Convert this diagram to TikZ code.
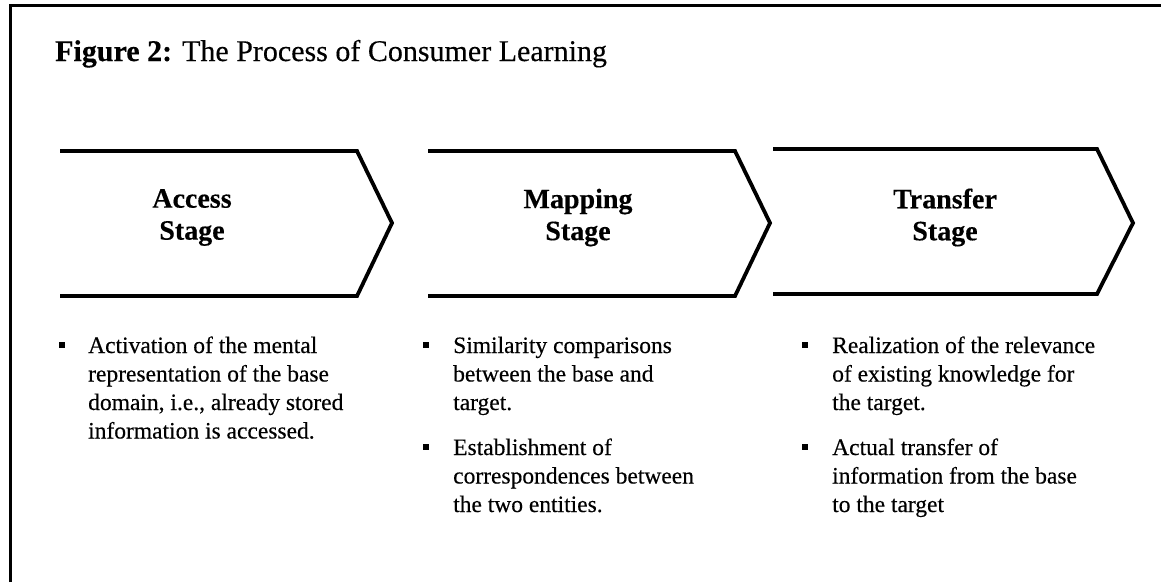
\documentclass[tikz,border=0pt]{standalone}
\usepackage{fontspec}
\setmainfont{Liberation Serif}[FakeBold=0.35]
% left-aligned block whose baseline is its first line
\newcommand{\bulletlines}[1]{\begin{tabular}[t]{@{}l@{}}#1\end{tabular}}
\begin{document}
\begin{tikzpicture}[x=1pt,y=-1pt,
  frame/.style={line width=3pt},
  chevron/.style={line width=3.8pt, line join=miter},
  stagelabel/.style={font=\fontsize{28}{32}\selectfont\bfseries, align=center, inner sep=0pt},
  bullettext/.style={font=\fontsize{23.5}{28.5}\selectfont, anchor=base west, inner sep=0pt},
  bulletmark/.style={fill=black, minimum width=5.5pt, minimum height=6.5pt, inner sep=0pt}
]
\useasboundingbox (0,0) rectangle (1161,582);

% open frame: left and top rules only
\draw[frame] (10,582) -- (10,5.5) -- (1161,5.5);

% title
\node[anchor=base west, inner sep=0pt, font=\fontsize{30}{34}\selectfont] (title) at (55,61)
  {\textbf{Figure 2:} The Process of Consumer Learning};

% stage chevrons (open on the left side)
\draw[chevron] (60,151) -- (357,151) -- (392,223) -- (357,296) -- (60,296);
\draw[chevron] (428,151) -- (735,151) -- (770,223) -- (735,296) -- (428,296);
\draw[chevron] (773,149) -- (1097,149) -- (1133,223) -- (1097,294) -- (773,294);

\node[stagelabel] (access)   at (192,217.5) {Access\\Stage};
\node[stagelabel] (mapping)  at (578,217.5) {Mapping\\Stage};
\node[stagelabel] (transfer) at (945,217.5) {Transfer\\Stage};

% access stage points
\node[bulletmark] (ba1) at (62,345) {};
\node[bullettext] (ta1) at (88,353) {\bulletlines{Activation of the mental\\representation of the base\\domain, i.e., already stored\\information is accessed.}};

% mapping stage points
\node[bulletmark] (bm1) at (426,345) {};
\node[bullettext] (tm1) at (453,353) {\bulletlines{Similarity comparisons\\between the base and\\target.}};
\node[bulletmark] (bm2) at (426,447) {};
\node[bullettext] (tm2) at (453,455) {\bulletlines{Establishment of\\correspondences between\\the two entities.}};

% transfer stage points
\node[bulletmark] (bt1) at (805,345) {};
\node[bullettext] (tt1) at (832,353) {\bulletlines{Realization of the relevance\\of existing knowledge for\\the target.}};
\node[bulletmark] (bt2) at (805,447) {};
\node[bullettext] (tt2) at (832,455) {\bulletlines{Actual transfer of\\information from the base\\to the target}};
\end{tikzpicture}
\end{document}
